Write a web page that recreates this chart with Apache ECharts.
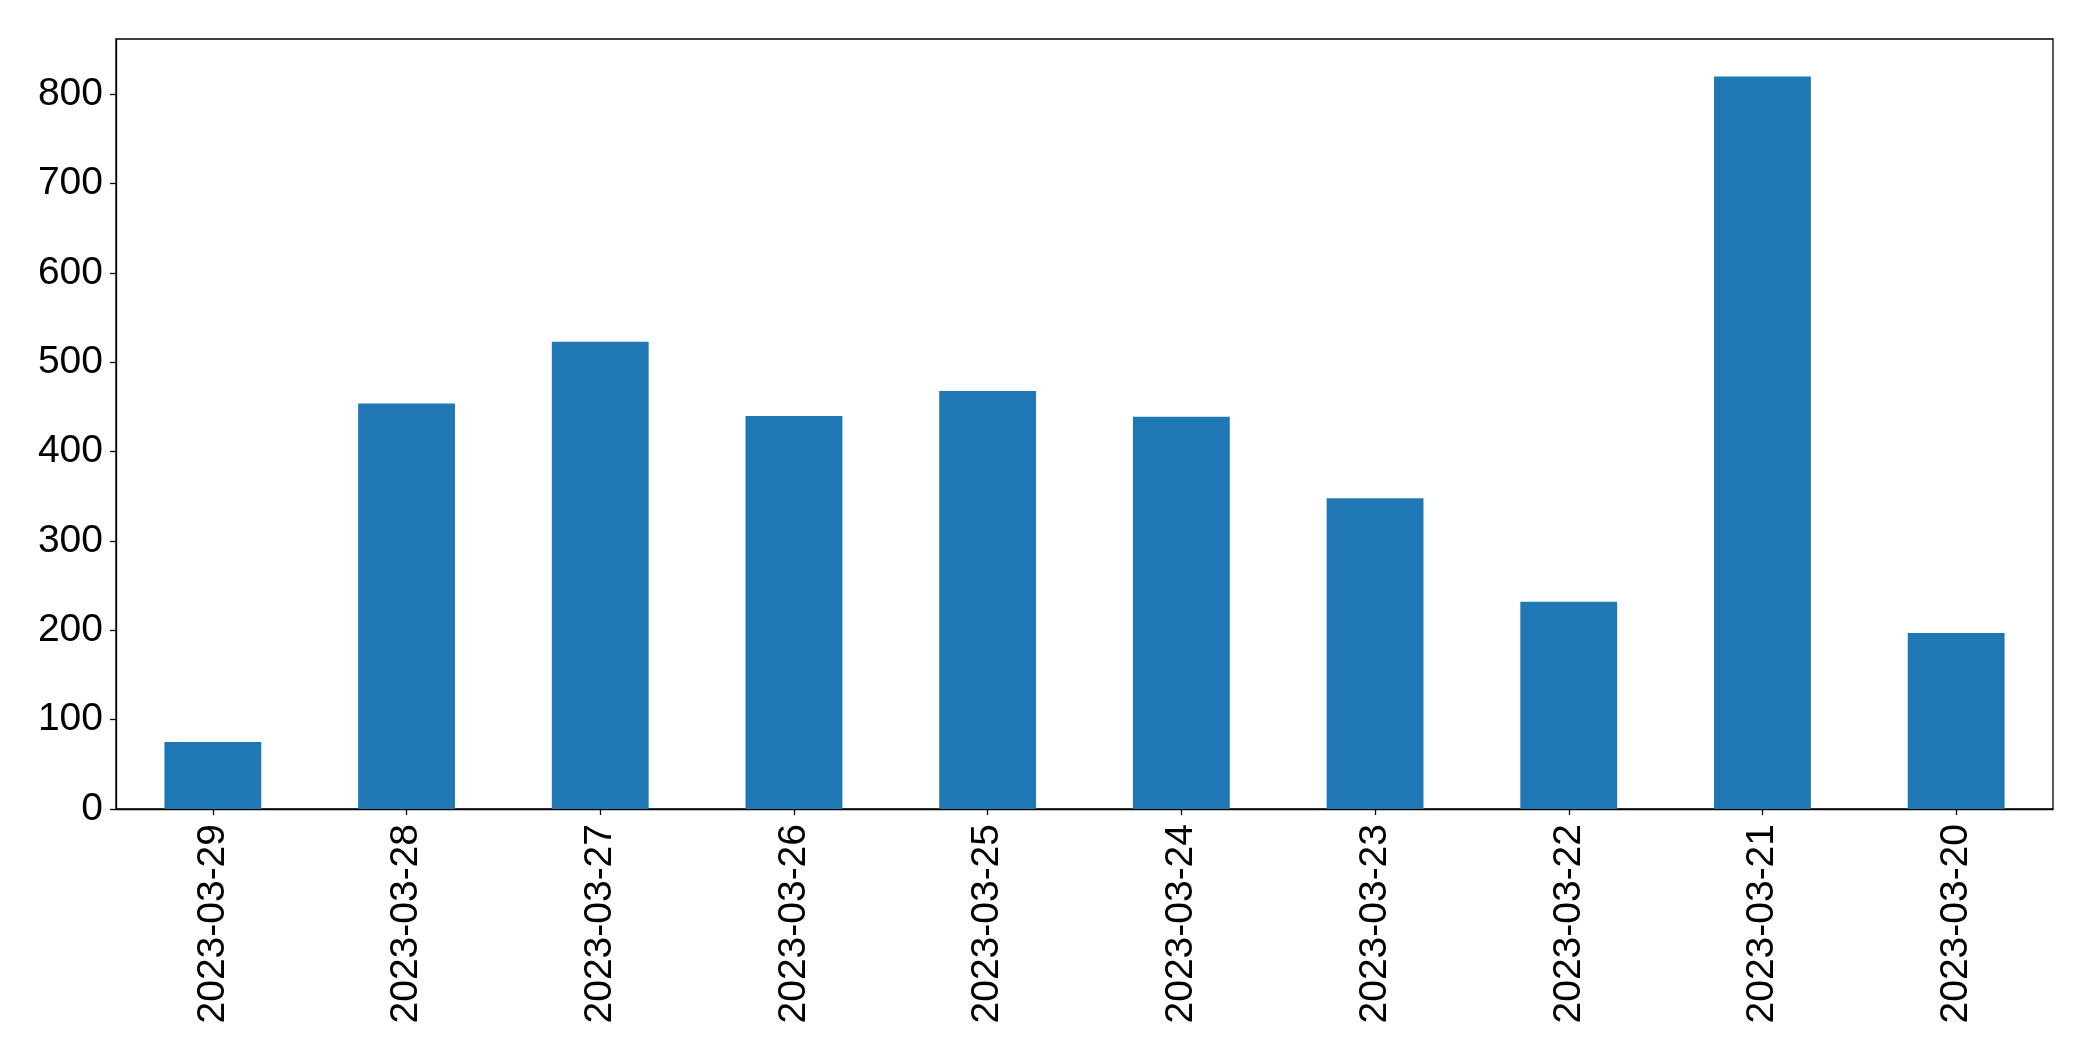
<!DOCTYPE html>
<html>
<head>
<meta charset="utf-8">
<script src="https://cdn.jsdelivr.net/npm/echarts@6/dist/echarts.min.js"></script>
<style>
html,body{margin:0;padding:0;background:#fff;}
#chart{width:2093px;height:1061px;}
</style>
</head>
<body>
<div id="chart"></div>
<script>
const categories = ["2023-03-29","2023-03-28","2023-03-27","2023-03-26","2023-03-25","2023-03-24","2023-03-23","2023-03-22","2023-03-21","2023-03-20"];
const values = [75, 454, 523, 440, 468, 439, 348, 232, 820, 197];
const yTicks = [0, 100, 200, 300, 400, 500, 600, 700, 800];

const chart = echarts.init(document.getElementById('chart'));
const font = '"Liberation Sans", Arial, sans-serif';
chart.setOption({
  animation: false,
  backgroundColor: '#ffffff',
  grid: {
    left: 116, right: 40, top: 39, bottom: 252,
    show: true, borderColor: '#000', borderWidth: 1.3, backgroundColor: 'transparent',
    containLabel: false
  },
  xAxis: {
    type: 'category',
    data: categories,
    boundaryGap: true,
    axisLine: { show: true, lineStyle: { color: '#000', width: 1.3 } },
    axisTick: { show: true, alignWithLabel: true, length: 6, lineStyle: { color: '#000', width: 1.3 } },
    axisLabel: { rotate: 90, margin: 15, color: '#000', fontSize: 39, fontFamily: font },
    splitLine: { show: false }
  },
  yAxis: {
    type: 'value',
    min: 0, max: 862, interval: 100,
    axisLine: { show: true, lineStyle: { color: '#000', width: 1.3 } },
    axisTick: { show: true, length: 6, lineStyle: { color: '#000', width: 1.3 } },
    axisLabel: {
      margin: 13, color: '#000', fontSize: 39, fontFamily: font,
      showMaxLabel: false,
      formatter: function (v) { return yTicks.indexOf(v) >= 0 ? String(v) : ''; }
    },
    splitLine: { show: false }
  },
  series: [{
    type: 'bar',
    data: values,
    barWidth: '50%',
    itemStyle: { color: '#1f77b4' }
  }]
});
</script>
</body>
</html>
